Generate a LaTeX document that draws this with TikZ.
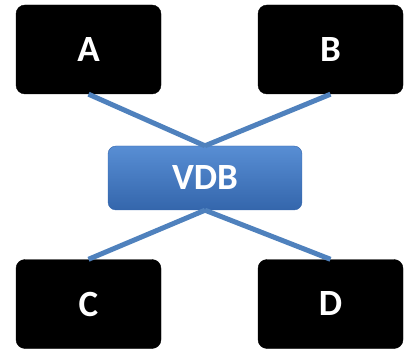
\documentclass[tikz,border=0pt]{standalone}
\usepackage{fontspec}
\setmainfont{Carlito}
\definecolor{vdbblue}{RGB}{79,129,189}
\definecolor{vdbtop}{RGB}{88,142,212}
\definecolor{vdbbottom}{RGB}{52,102,172}

\begin{document}
\begin{tikzpicture}[x=1pt, y=1pt,
  client/.style={draw=black, fill=black, rounded corners=9pt, minimum width=145pt,
    minimum height=89pt, text=white, font=\fontsize{37}{40}\selectfont\bfseries},
  hub/.style={draw=vdbbottom, top color=vdbtop, bottom color=vdbbottom, rounded corners=8pt,
    minimum width=194pt, minimum height=64pt, text=white, font=\fontsize{37}{40}\selectfont\bfseries},
  link/.style={draw=vdbblue, line width=5pt}]
  \useasboundingbox (0,0) rectangle (404,351);
  \node[client] (a) at (88.5,301.5) {A};
  \node[client] (b) at (330.5,301.5) {B};
  \node[client] (c) at (88.5,47) {C};
  \node[client] (d) at (330.5,47) {D};
  \node[hub] (vdb) at (205,173) {VDB};
  % connectors to the hub
  \draw[link] (a.south) -- (vdb.north);
  \draw[link] (b.south) -- (vdb.north);
  \draw[link] (vdb.south) -- (c.north);
  \draw[link] (vdb.south) -- (d.north);
\end{tikzpicture}
\end{document}
